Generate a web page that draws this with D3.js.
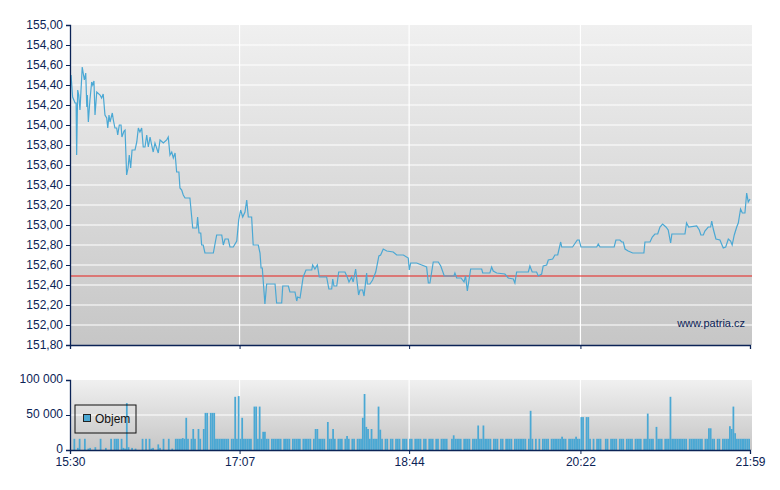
<!DOCTYPE html>
<html>
<head>
<meta charset="utf-8">
<script src="https://cdn.jsdelivr.net/npm/d3@7"></script>
<style>
  body { margin: 0; background: #fff; }
  text { font-family: "Liberation Sans", Arial, sans-serif; }
</style>
</head>
<body>
<svg id="chart" width="780" height="490"></svg>
<script>
// minutes after 15:30
var priceMinutes = [0.6,1.5,2.9,3.5,3.8,4.4,5.0,5.7,7.0,8.2,9.0,9.6,9.9,10.5,11.4,12.4,13.0,13.7,14.3,15.3,17.2,18.1,19.0,20.0,21.0,21.6,22.3,22.9,24.2,24.8,25.7,26.7,27.3,28.2,29.2,29.7,30.9,31.5,32.4,33.2,33.9,34.7,35.5,37.2,38.2,39.1,40.0,41.0,41.9,42.9,43.9,44.8,45.8,46.7,47.6,48.6,50.5,51.5,53.4,55.3,56.2,57.2,58.2,59.1,60.1,61.0,62.3,62.9,63.9,64.8,65.8,68.6,70.2,72.5,73.0,73.8,74.8,75.3,76.2,77.2,82.0,83.9,86.8,87.7,88.7,90.5,91.5,93.4,95.4,96.5,97.6,98.8,100.1,101.1,102.0,103.9,104.8,107.7,108.7,109.3,110.0,111.5,112.5,117.3,118.2,121.1,121.7,124.9,125.8,128.7,129.7,130.2,131.6,133.4,135.0,138.3,138.8,140.1,141.5,142.6,146.8,148.1,149.7,150.3,151.0,152.6,153.7,157.3,158.6,159.6,161.1,162.0,163.4,165.1,165.9,167.4,168.2,169.7,170.1,171.6,173.1,174.9,176.7,177.7,179.2,181.2,184.9,186.9,190.7,193.5,194.1,194.9,198.3,201.2,204.0,205.0,205.9,207.8,210.7,212.1,214.1,219.6,220.2,221.2,223.7,225.4,226.3,227.3,229.2,235.5,236.1,240.2,241.2,242.1,244.1,248.8,250.7,253.6,254.5,255.5,262.2,263.1,264.4,266.9,267.9,269.8,270.7,272.7,273.6,276.1,277.4,279.0,280.7,281.3,287.5,290.2,291.3,292.3,301.3,302.2,303.2,311.3,312.3,314.6,315.6,316.5,317.5,319.3,321.9,328.3,328.9,331.8,333.1,334.6,336.2,337.5,339.0,340.9,342.2,343.6,344.3,351.8,352.7,353.9,358.5,360.0,360.9,362.3,363.2,365.1,366.5,367.1,368.0,369.5,371.8,373.7,375.1,376.6,377.9,378.8,380.0,381.4,382.3,383.6,384.6,386.1,387.1,388.0,389.0];
var priceValues = [154.50,154.28,154.22,154.22,153.70,154.35,154.30,154.15,154.58,154.45,154.52,154.18,154.30,154.03,154.25,154.43,154.40,154.44,154.10,154.33,154.30,154.27,154.31,154.10,154.07,153.97,154.10,154.03,154.12,154.05,153.97,153.97,153.90,154.00,154.00,153.88,153.94,153.95,153.50,153.57,153.70,153.57,153.75,153.75,153.83,153.97,153.93,153.97,153.78,153.78,153.90,153.78,153.88,153.80,153.73,153.82,153.72,153.85,153.82,153.85,153.88,153.70,153.73,153.67,153.72,153.53,153.53,153.37,153.35,153.30,153.27,153.27,152.97,152.97,153.08,152.92,152.92,152.80,152.80,152.72,152.72,152.90,152.90,152.80,152.86,152.86,152.78,152.78,152.84,153.05,153.15,153.08,153.13,153.25,153.08,153.08,152.80,152.80,152.72,152.57,152.57,152.21,152.41,152.41,152.22,152.22,152.39,152.39,152.33,152.33,152.24,152.28,152.27,152.48,152.55,152.55,152.60,152.56,152.60,152.48,152.48,152.36,152.36,152.46,152.39,152.39,152.53,152.53,152.48,152.43,152.48,152.43,152.56,152.30,152.35,152.35,152.29,152.52,152.41,152.41,152.45,152.53,152.69,152.70,152.76,152.74,152.73,152.70,152.70,152.67,152.55,152.62,152.62,152.60,152.58,152.42,152.42,152.63,152.63,152.59,152.49,152.49,152.52,152.47,152.47,152.43,152.49,152.34,152.56,152.56,152.52,152.52,152.58,152.54,152.52,152.51,152.47,152.46,152.42,152.53,152.53,152.59,152.53,152.53,152.49,152.51,152.59,152.60,152.65,152.66,152.70,152.70,152.83,152.78,152.78,152.85,152.85,152.78,152.78,152.81,152.78,152.78,152.85,152.85,152.83,152.83,152.76,152.74,152.72,152.72,152.83,152.83,152.88,152.91,152.91,152.98,153.01,152.98,152.95,152.82,152.91,152.91,153.02,152.98,152.99,152.95,152.90,152.90,152.94,152.98,152.98,153.04,152.96,152.86,152.85,152.77,152.78,152.86,152.84,152.80,152.90,152.98,153.02,153.16,153.12,153.12,153.32,153.23,153.26];
var previousClose = 152.49;

// volume per minute, thousands
var volumeK = [
  0,0,16,0,3,16,0,0,16,0,2,3,0,0,4,0,0,16,0,0,
  3,0,0,16,0,16,16,16,0,16,3,2,67,4,0,3,0,2,0,0,
  0,16,0,16,0,16,2,3,0,0,8,3,0,16,0,0,16,0,2,0,
  16,16,16,16,17,16,46,16,0,16,30,16,0,30,16,0,30,53,53,0,
  53,53,53,16,16,16,16,16,16,16,16,0,16,16,76,16,77,16,46,16,
  16,16,16,16,0,62,62,16,62,16,26,26,16,16,0,16,16,16,16,16,
  16,0,16,16,16,16,0,16,16,16,16,16,0,16,16,16,16,16,0,16,
  30,30,16,16,16,16,0,40,16,16,30,16,0,16,16,16,0,16,20,16,
  0,16,16,0,16,16,16,46,80,33,30,16,30,16,16,16,62,29,16,0,
  16,16,0,16,16,0,16,16,16,0,16,16,16,0,16,16,0,16,16,16,
  16,0,16,16,0,16,16,16,0,16,16,0,16,16,16,16,0,0,16,21,
  16,16,16,16,0,16,16,16,16,0,16,16,16,35,16,16,35,16,16,16,
  16,0,16,16,16,0,16,16,0,16,16,16,16,0,16,16,16,16,16,16,
  16,0,16,56,16,0,16,0,16,0,16,16,16,16,0,16,16,16,16,16,
  16,19,16,16,0,16,16,16,16,19,16,16,47,47,0,47,47,16,0,16,
  0,16,16,16,0,0,16,16,0,16,16,16,16,0,16,16,16,0,16,16,
  16,16,0,16,16,16,16,0,16,16,52,16,16,16,0,33,16,16,16,0,
  16,16,16,76,16,16,16,16,16,16,16,16,16,0,16,16,16,16,16,16,
  16,16,0,16,16,31,31,16,16,0,16,16,0,16,16,16,16,34,30,62,
  24,16,16,16,16,16,16,16,16
];

var priceTicks = [151.8,152.0,152.2,152.4,152.6,152.8,153.0,153.2,153.4,153.6,153.8,154.0,154.2,154.4,154.6,154.8,155.0];
var volumeTicks = [0, 50000, 100000];
var timeTickMinutes = [0, 97, 194, 292, 389];
var timeTickLabels = ["15:30", "17:07", "18:44", "20:22", "21:59"];

var svg = d3.select("#chart");
var axisColor = "#0b2356";
var lineColor = "#4aa8d4";

var grad = svg.append("defs").append("linearGradient").attr("id", "bg")
  .attr("x1", 0).attr("y1", 0).attr("x2", 0).attr("y2", 1);
grad.append("stop").attr("offset", "0%").attr("stop-color", "#f0f0f0");
grad.append("stop").attr("offset", "100%").attr("stop-color", "#c6c6c6");

var x = d3.scaleLinear().domain([0, 389]).range([70, 750]);
var y = d3.scaleLinear().domain([151.8, 155]).range([345, 25]);
var yv = d3.scaleLinear().domain([0, 100000]).range([450, 380]);

function panel(top, bottom) {
  svg.append("rect").attr("x", 70).attr("y", top).attr("width", 682).attr("height", bottom - top)
    .attr("fill", "url(#bg)");
  svg.append("g").selectAll("line").data(timeTickMinutes.slice(1, -1)).enter().append("line")
    .attr("x1", d => x(d)).attr("x2", d => x(d)).attr("y1", top).attr("y2", bottom)
    .attr("stroke", "#fff").attr("stroke-width", 1.2);
}
panel(25, 345);
panel(380, 450);

svg.append("g").selectAll("line").data(priceTicks.slice(1, -1)).enter().append("line")
  .attr("x1", 70).attr("x2", 752).attr("y1", d => y(d)).attr("y2", d => y(d))
  .attr("stroke", "#fff").attr("stroke-width", 1.2);
svg.append("line").attr("x1", 70).attr("x2", 752).attr("y1", yv(50000)).attr("y2", yv(50000))
  .attr("stroke", "#fff").attr("stroke-width", 1.2);

// previous close
svg.append("line").attr("x1", 70).attr("x2", 752).attr("y1", y(previousClose)).attr("y2", y(previousClose))
  .attr("stroke", "#e8201c").attr("stroke-width", 1.2);

// price line
var pts = priceMinutes.map((m, i) => [m, priceValues[i]]);
svg.append("path").datum(pts)
  .attr("fill", "none").attr("stroke", lineColor).attr("stroke-width", 1.2)
  .attr("d", d3.line().x(d => x(d[0])).y(d => y(d[1])));

// volume bars
var bw = x(1) - x(0);
var volData = volumeK.map((v, i) => ({ m: i, v: v * 1000 })).filter(d => d.v > 0);
svg.append("g").selectAll("rect").data(volData).enter().append("rect")
  .attr("x", d => x(d.m)).attr("width", bw)
  .attr("y", d => yv(d.v)).attr("height", d => yv(0) - yv(d.v))
  .attr("fill", lineColor);

// axes
var yAxis = d3.axisLeft(y).tickValues(priceTicks).tickSize(4)
  .tickFormat(d => d3.format(".2f")(d).replace(".", ","));
var gy = svg.append("g").attr("transform", "translate(70,0)").call(yAxis);
var yvAxis = d3.axisLeft(yv).tickValues(volumeTicks).tickSize(4)
  .tickFormat(d => d3.format(",")(d).replace(/,/g, " "));
var gyv = svg.append("g").attr("transform", "translate(70,0)").call(yvAxis);
var gx1 = svg.append("g").attr("transform", "translate(0,345)")
  .call(d3.axisBottom(x).tickValues(timeTickMinutes).tickSize(4).tickFormat(""));
var gx2 = svg.append("g").attr("transform", "translate(0,450)")
  .call(d3.axisBottom(x).tickValues(timeTickMinutes).tickSize(4).tickFormat((d, i) => timeTickLabels[i]));

[gy, gyv, gx1, gx2].forEach(function (g) {
  g.select(".domain").attr("stroke", axisColor).attr("stroke-width", 1.3);
  g.selectAll(".tick line").attr("stroke", axisColor);
  g.selectAll("text").attr("fill", axisColor).style("font-size", "12px")
    .style("font-family", "'Liberation Sans', Arial, sans-serif");
});
gyv.selectAll(".tick text").attr("dy", "0.2em");

// legend
svg.append("rect").attr("x", 75).attr("y", 405).attr("width", 61).attr("height", 28)
  .attr("fill", "none").attr("stroke", "#111").attr("stroke-width", 1);
svg.append("rect").attr("x", 83.5).attr("y", 414.5).attr("width", 7).attr("height", 7)
  .attr("fill", lineColor).attr("stroke", "#222");
svg.append("text").attr("x", 95).attr("y", 423).attr("font-size", 12).attr("fill", "#111").text("Objem");

// watermark
svg.append("text").attr("x", 745).attr("y", 327).attr("text-anchor", "end")
  .attr("font-size", 11).attr("fill", axisColor).text("www.patria.cz");
</script>
</body>
</html>
